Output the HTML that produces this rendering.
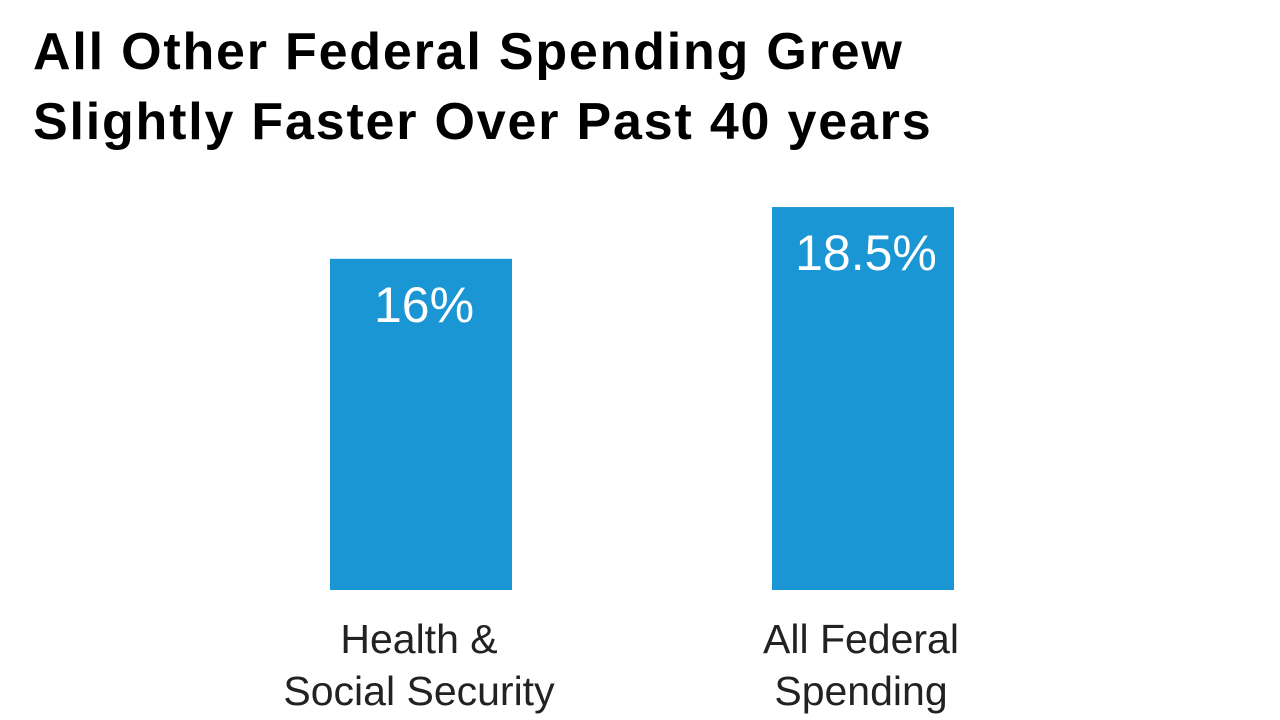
<!DOCTYPE html>
<html><head><meta charset="utf-8">
<style>
html,body{margin:0;padding:0;background:#fff;}
body{width:1280px;height:720px;position:relative;overflow:hidden;font-family:"Liberation Sans",sans-serif;}
#title{position:absolute;left:33px;top:17px;font-size:52px;font-weight:bold;line-height:70px;color:#000;margin:0;letter-spacing:1.8px;white-space:nowrap;}
svg{position:absolute;left:0;top:0;}
</style></head>
<body>
<h1 id="title">All Other Federal Spending Grew<br>Slightly Faster Over Past 40 years</h1>
<svg id="chart" width="1280" height="720"></svg>
<script>
const categories = [["Health &","Social Security"],["All Federal","Spending"]];
const values = [16, 18.5];
const valueLabels = ["16%","18.5%"];

const NS="http://www.w3.org/2000/svg";
const svg=document.getElementById('chart');
const baseY=590, pxPerUnit=20.7;
function y(v){return baseY - v*pxPerUnit;}
const centers=[421,863], barW=182;
function x(i){return centers[i];}
values.forEach((v,i)=>{
  const r=document.createElementNS(NS,'rect');
  r.setAttribute('x',x(i)-barW/2);
  r.setAttribute('y',y(v));
  r.setAttribute('width',barW);
  r.setAttribute('height',baseY-y(v));
  r.setAttribute('fill','#1996d3');
  
  
  svg.appendChild(r);
  const t=document.createElementNS(NS,'text');
  t.setAttribute('x',x(i)+3);
  t.setAttribute('y',y(v)+63);
  t.setAttribute('text-anchor','middle');
  t.setAttribute('fill','#fff');
  t.setAttribute('font-size','50');
  t.setAttribute('font-family','Liberation Sans, sans-serif');
  t.textContent=valueLabels[i];
  
  
  svg.appendChild(t);
  categories[i].forEach((line,j)=>{
    const c=document.createElementNS(NS,'text');
    c.setAttribute('x',x(i)-2);
    c.setAttribute('y',653+j*52);
    c.setAttribute('text-anchor','middle');
    c.setAttribute('fill','#222');
    c.setAttribute('font-size','41');
    c.setAttribute('font-family','Liberation Sans, sans-serif');
    c.textContent=line;
    
    
    svg.appendChild(c);
  });
});
</script>
</body></html>
